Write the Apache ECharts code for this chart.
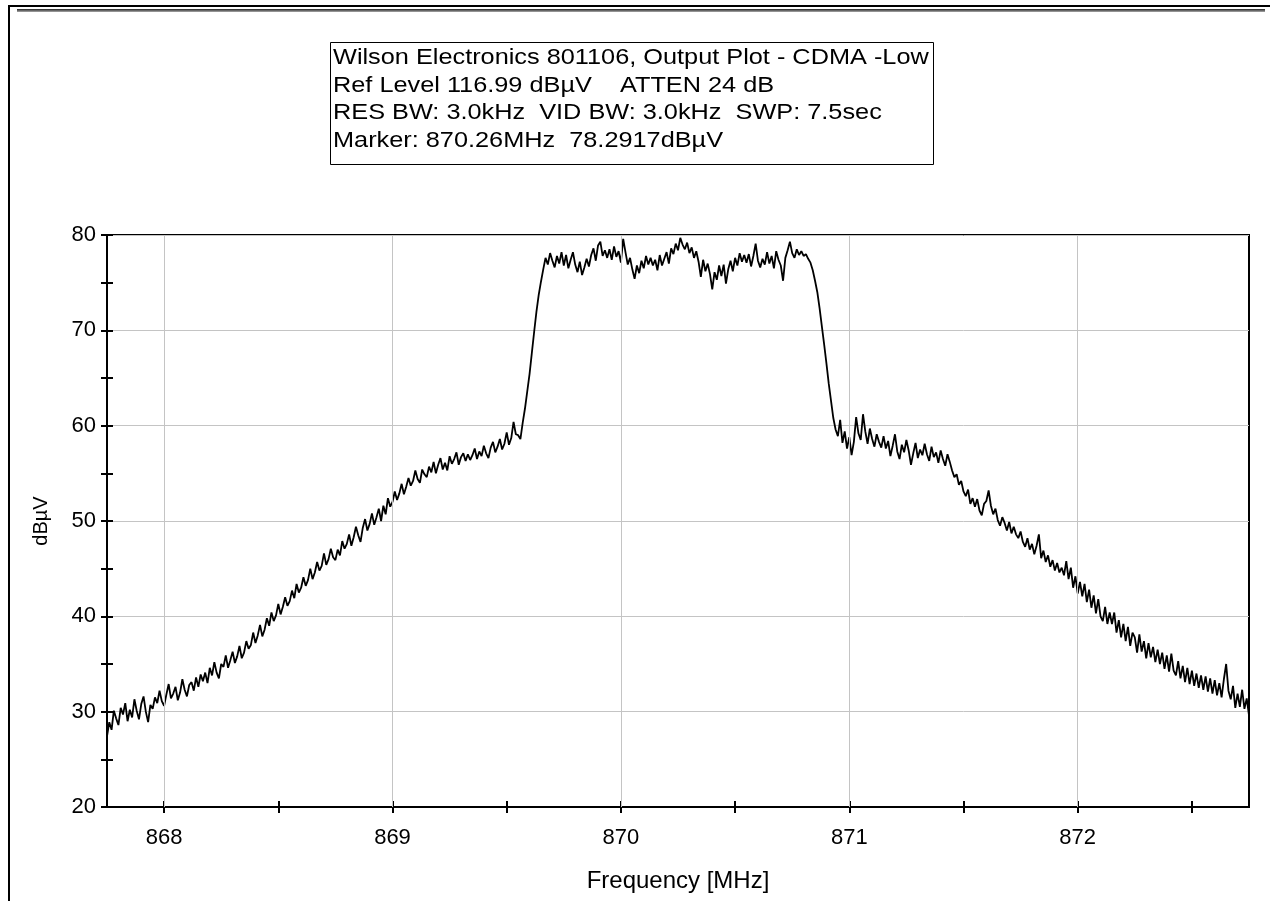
<!DOCTYPE html>
<html>
<head>
<meta charset="utf-8">
<script src="https://cdn.jsdelivr.net/npm/echarts@6/dist/echarts.min.js"></script>
<style>
html,body{margin:0;padding:0;background:#fff;}
#chart{width:1270px;height:901px;}
</style>
</head>
<body>
<div id="chart"></div>
<script>
// ---- data ----
var infoLines = [
  'Wilson Electronics 801106, Output Plot - CDMA -Low',
  'Ref Level 116.99 dB\u00b5V    ATTEN 24 dB',
  'RES BW: 3.0kHz  VID BW: 3.0kHz  SWP: 7.5sec',
  'Marker: 870.26MHz  78.2917dB\u00b5V'
];
var xAxisName = 'Frequency [MHz]';
var yAxisName = 'dB\u00b5V';
var freqStart = 867.75;   // MHz, first sample
var freqStep = 0.01;      // MHz between samples
var xMin = 867.75, xMax = 872.75;
var xTickValues = [868, 868.5, 869, 869.5, 870, 870.5, 871, 871.5, 872, 872.5];
var xLabelValues = [868, 869, 870, 871, 872];
var yMin = 20, yMax = 80, yStep = 10;
// trace level in dBuV, one value per 0.01 MHz (20 per row = 0.2 MHz)
var levels = [
  27.4, 28.9, 28.1, 30.1, 29.3, 28.6, 30.4, 29.7, 30.9, 29.0, 30.2, 29.4, 31.3, 30.1, 29.2, 30.8, 31.6, 30.0, 28.9, 30.7,
  30.3, 31.5, 30.9, 32.2, 31.1, 30.6, 31.8, 32.9, 31.4, 31.9, 32.6, 31.2, 32.0, 33.4, 32.3, 31.6, 32.8, 33.1, 32.2, 33.6,
  32.6, 33.9, 33.2, 34.1, 33.0, 34.6, 33.8, 35.2, 34.1, 33.5, 35.0, 34.7, 35.9, 34.6, 35.4, 36.3, 35.1, 35.8, 36.9, 35.6,
  36.2, 37.4, 36.6, 37.0, 38.3, 37.2, 38.0, 39.1, 37.9, 38.6, 39.8, 39.0, 40.4, 39.5, 40.1, 41.3, 40.2, 41.0, 42.0, 41.1,
  41.6, 42.7, 41.9, 43.4, 42.5, 43.0, 44.1, 43.2, 43.8, 45.0, 43.9, 44.6, 45.7, 44.8, 45.3, 46.6, 45.4, 46.0, 47.1, 46.2,
  45.9, 47.0, 46.4, 47.9, 47.1, 47.6, 48.6, 47.4, 48.3, 49.4, 48.5, 47.8, 49.3, 50.2, 49.0, 49.7, 50.8, 49.6, 50.4, 51.3,
  50.0, 51.6, 50.7, 52.4, 51.5, 52.0, 53.1, 52.2, 52.9, 53.9, 52.8, 53.6, 54.5, 53.7, 54.2, 55.3, 54.4, 54.0, 55.4, 54.9,
  54.6, 55.7, 55.1, 56.2, 55.0, 55.9, 56.6, 55.4, 56.1, 55.3, 56.8, 56.0, 56.5, 57.2, 55.9, 56.7, 57.1, 56.3, 57.0, 56.4,
  56.9, 57.6, 56.5, 57.3, 56.8, 57.9, 57.1, 56.6, 57.7, 58.3, 57.2, 57.8, 58.6, 57.5, 58.1, 59.3, 58.0, 58.7, 60.4, 59.1,
  59.0, 58.6, 60.3, 61.8, 63.6, 65.4, 67.6, 69.8, 71.9, 73.7, 75.1, 76.4, 77.6, 76.9, 78.1, 77.3, 76.6, 77.8, 77.0, 78.2,
  76.8, 77.9, 76.5, 77.4, 78.2, 76.9, 76.1, 77.2, 75.8, 76.6, 77.5, 76.7, 77.9, 78.6, 77.3, 78.9, 79.3, 77.8, 78.4, 77.6,
  78.5, 77.4, 78.8, 77.7, 78.3, 77.1, 79.6, 78.2, 76.9, 77.6, 76.4, 75.4, 76.8, 76.0, 77.3, 76.5, 77.8, 76.9, 77.6, 76.8,
  77.4, 76.3, 77.9, 76.8, 77.5, 78.2, 77.0, 78.6, 78.0, 79.1, 78.4, 79.7, 79.0, 78.5, 79.2, 78.1, 78.7, 77.6, 78.3, 77.2,
  75.6, 77.4, 76.2, 77.0, 75.9, 74.3, 76.1, 75.3, 76.8, 75.7, 76.9, 74.9, 76.4, 77.3, 76.2, 77.6, 76.8, 78.1, 77.2, 77.9,
  77.1, 78.0, 76.7, 77.8, 79.1, 77.3, 76.6, 77.5, 76.9, 78.2, 77.0, 77.8, 76.5, 78.3, 77.4, 76.8, 75.2, 77.6, 78.4, 79.3,
  78.1, 77.6, 78.5, 77.9, 78.3, 77.8, 78.0, 77.5, 77.1, 76.3, 75.2, 74.0, 72.3, 70.4, 68.5, 66.5, 64.4, 62.6, 60.8, 59.6,
  58.9, 60.6, 58.2, 59.4, 57.6, 58.8, 56.9, 58.3, 60.9, 59.2, 58.5, 61.2, 59.4, 58.1, 59.7, 58.6, 57.8, 59.1, 58.3, 57.7,
  58.9, 57.6, 58.4, 56.8, 57.9, 59.1, 57.3, 56.5, 58.0, 57.2, 58.5, 57.4, 55.9, 57.1, 58.2, 56.6, 57.5, 56.9, 58.1, 57.0,
  56.3, 57.8, 56.7, 57.2, 56.1, 57.4, 56.5, 55.8, 57.0, 56.2, 55.3, 54.6, 54.9, 53.8, 54.2, 53.1, 52.6, 53.3, 51.8, 52.4,
  51.5, 52.3, 51.1, 50.6, 51.8, 52.1, 53.2, 51.6, 50.7, 51.3, 50.1, 49.5, 50.4, 49.8, 49.0, 49.9, 48.7, 49.4, 48.6, 48.2,
  48.9, 47.8, 47.3, 48.2, 47.0, 47.6, 46.5, 47.4, 48.6, 46.1, 46.9, 45.7, 46.4, 45.2, 45.9, 44.8, 45.6, 44.6, 45.1, 44.3,
  45.8, 43.9, 45.1, 43.0, 44.2, 42.4, 43.6, 42.1, 43.4, 41.5, 42.8, 40.9, 42.2, 40.3, 41.8, 40.0, 39.5, 41.0, 39.2, 40.4,
  39.2, 40.4, 38.3, 39.6, 37.8, 39.2, 37.4, 38.9, 36.9, 38.3, 37.8, 36.2, 38.1, 36.3, 37.4, 35.6, 37.2, 35.7, 36.8, 35.2,
  36.5, 35.0, 36.2, 34.5, 35.9, 34.2, 36.1, 34.3, 33.8, 35.3, 33.5, 34.8, 33.1, 34.6, 32.9, 34.3, 32.7, 34.0, 32.5, 33.8,
  32.3, 33.7, 32.1, 33.5, 31.9, 33.3, 31.7, 33.0, 31.5, 33.4, 35.0, 32.2, 31.3, 32.7, 30.4, 31.9, 30.5, 32.3, 30.3, 31.4,
  29.6
];

// ---- build ----
var traceData = levels.map(function (v, i) {
  return [+(freqStart + i * freqStep).toFixed(4), v];
});
var FONT = '"Liberation Sans", Arial, sans-serif';
var gridLineColor = '#c4c4c4';

var infoTexts = infoLines.map(function (t, i) {
  return {
    type: 'text',
    x: 333, y: 58 + i * 27.5,
    scaleX: 1.15,
    style: { text: t, fill: '#000', font: '22px ' + FONT, verticalAlign: 'middle' }
  };
});

var chart = echarts.init(document.getElementById('chart'), null, { renderer: 'canvas' });
chart.setOption({
  backgroundColor: '#fff',
  animation: false,
  graphic: [
    { type: 'rect', shape: { x: 8, y: 5, width: 1262, height: 2 }, style: { fill: '#000' } },
    { type: 'rect', shape: { x: 8, y: 5, width: 2, height: 896 }, style: { fill: '#000' } },
    { type: 'rect', shape: { x: 17, y: 9, width: 1248, height: 3 },
      style: { fill: new echarts.graphic.LinearGradient(0, 0, 0, 1, [
        { offset: 0, color: '#222' }, { offset: 1, color: '#aaa' }]) } },
    { type: 'rect', shape: { x: 330.5, y: 42.5, width: 603, height: 122 },
      style: { fill: '#fff', stroke: '#000', lineWidth: 1 } }
  ].concat(infoTexts),
  grid: {
    left: 107, right: 21, top: 235, bottom: 94,
    show: true, borderColor: '#000', borderWidth: 2, backgroundColor: 'transparent'
  },
  xAxis: [{
    type: 'value', min: xMin, max: xMax, position: 'bottom',
    name: xAxisName, nameLocation: 'middle', nameGap: 62,
    nameTextStyle: { color: '#000', fontSize: 24, fontFamily: FONT },
    axisLine: { show: true, onZero: false, lineStyle: { color: '#000', width: 2 } },
    axisTick: { show: true, inside: false, length: 6, customValues: xTickValues,
      lineStyle: { color: '#000', width: 2 } },
    axisLabel: { show: true, customValues: xLabelValues, margin: 20, color: '#000',
      fontSize: 22, fontFamily: FONT },
    splitLine: { show: false }
  }, {
    type: 'value', min: xMin, max: xMax, position: 'bottom',
    axisLine: { show: false, onZero: false },
    axisTick: { show: true, inside: true, length: 6, customValues: xTickValues,
      lineStyle: { color: '#000', width: 2 } },
    axisLabel: { show: false },
    splitLine: { show: false }
  }],
  yAxis: [{
    type: 'value', min: yMin, max: yMax, interval: yStep, position: 'left',
    name: yAxisName, nameLocation: 'middle', nameGap: 56,
    nameTextStyle: { color: '#000', fontSize: 20, fontFamily: FONT },
    axisLine: { show: true, onZero: false, lineStyle: { color: '#000', width: 2 } },
    axisTick: { show: true, inside: false, length: 6, lineStyle: { color: '#000', width: 2 } },
    minorTick: { show: true, splitNumber: 2, length: 6, lineStyle: { color: '#000', width: 2 } },
    axisLabel: { margin: 11, color: '#000', fontSize: 22, fontFamily: FONT },
    splitLine: { show: true, lineStyle: { color: gridLineColor, width: 1 } }
  }, {
    type: 'value', min: yMin, max: yMax, interval: yStep, position: 'left',
    axisLine: { show: false, onZero: false },
    axisTick: { show: true, inside: true, length: 6, lineStyle: { color: '#000', width: 2 } },
    minorTick: { show: true, splitNumber: 2, length: 6, lineStyle: { color: '#000', width: 2 } },
    axisLabel: { show: false },
    splitLine: { show: false }
  }],
  series: [{
    type: 'line', data: [], z: 1, silent: true,
    markLine: {
      silent: true, symbol: 'none', label: { show: false }, animation: false,
      lineStyle: { color: gridLineColor, width: 1, type: 'solid' },
      data: xLabelValues.map(function (v) { return { xAxis: v }; })
    }
  }, {
    type: 'line', data: traceData, z: 3, showSymbol: false, symbol: 'none',
    lineStyle: { color: '#000', width: 1.8 }
  }]
});
</script>
</body>
</html>
